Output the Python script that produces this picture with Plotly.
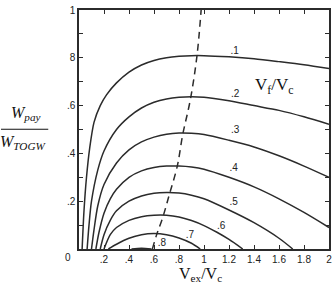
import plotly.graph_objects as go

# Vf/Vc curves: payload fraction vs Vex/Vc
x_r1 = [0.025, 0.04, 0.06, 0.085, 0.12, 0.17, 0.22, 0.3, 0.4, 0.5, 0.6, 0.7, 0.8, 0.9, 1.0, 1.2, 1.4, 1.6, 1.8, 2.0]
y_r1 = [0.0, 0.16, 0.30, 0.42, 0.53, 0.60, 0.645, 0.695, 0.74, 0.77, 0.789, 0.80, 0.806, 0.809, 0.809, 0.804, 0.796, 0.784, 0.771, 0.755]
x_r2 = [0.065, 0.08, 0.1, 0.15, 0.2, 0.3, 0.4, 0.5, 0.6, 0.7, 0.8, 0.9, 1.0, 1.2, 1.4, 1.6, 1.8, 2.0]
y_r2 = [0.0, 0.10, 0.20, 0.33, 0.41, 0.50, 0.553, 0.59, 0.614, 0.628, 0.635, 0.637, 0.635, 0.62, 0.60, 0.58, 0.553, 0.522]
x_r3 = [0.10, 0.12, 0.15, 0.2, 0.3, 0.4, 0.5, 0.6, 0.7, 0.8, 0.9, 1.0, 1.2, 1.4, 1.6, 1.8, 2.0]
y_r3 = [0.0, 0.08, 0.18, 0.27, 0.36, 0.415, 0.448, 0.468, 0.48, 0.485, 0.484, 0.479, 0.455, 0.427, 0.39, 0.347, 0.300]
x_r4 = [0.135, 0.16, 0.2, 0.25, 0.3, 0.4, 0.5, 0.6, 0.7, 0.8, 0.9, 1.0, 1.2, 1.4, 1.6, 1.8, 2.0]
y_r4 = [0.0, 0.07, 0.15, 0.21, 0.25, 0.30, 0.327, 0.341, 0.347, 0.347, 0.343, 0.334, 0.30, 0.26, 0.21, 0.153, 0.09]
x_r5 = [0.17, 0.2, 0.25, 0.3, 0.4, 0.5, 0.6, 0.7, 0.8, 0.9, 1.0, 1.2, 1.4, 1.6, 1.71]
y_r5 = [0.0, 0.06, 0.12, 0.16, 0.20, 0.222, 0.233, 0.236, 0.234, 0.225, 0.21, 0.163, 0.11, 0.045, 0.0]
x_r6 = [0.20, 0.25, 0.3, 0.4, 0.5, 0.6, 0.7, 0.8, 0.9, 1.0, 1.1, 1.2, 1.31]
y_r6 = [0.0, 0.06, 0.09, 0.12, 0.135, 0.141, 0.141, 0.134, 0.119, 0.098, 0.071, 0.040, 0.0]
x_r7 = [0.235, 0.3, 0.4, 0.5, 0.6, 0.7, 0.8, 0.9, 0.97]
y_r7 = [0.0, 0.02, 0.045, 0.06, 0.065, 0.06, 0.046, 0.024, 0.0]
x_r8 = [0.42, 0.5, 0.58]
y_r8 = [0.0, 0.003, 0.0]

curves_x = [x_r1, x_r2, x_r3, x_r4, x_r5, x_r6, x_r7, x_r8]
curves_y = [y_r1, y_r2, y_r3, y_r4, y_r5, y_r6, y_r7, y_r8]

# optimum (dashed) locus
x_opt = [0.587, 0.62, 0.67, 0.725, 0.786, 0.83, 0.89, 0.943, 0.977]
y_opt = [0.0, 0.058, 0.132, 0.232, 0.346, 0.479, 0.623, 0.805, 1.0]

# curve labels
lab_text = [".1", ".2", ".3", ".4", ".5", ".6", ".7", ".8"]
lab_x = [1.245, 1.25, 1.25, 1.237, 1.237, 1.137, 0.887, 0.663]
lab_y = [0.825, 0.645, 0.495, 0.338, 0.195, 0.095, 0.058, 0.022]

x_ticks = [0.2, 0.4, 0.6, 0.8, 1.0, 1.2, 1.4, 1.6, 1.8, 2.0]
x_ticktext = [".2", ".4", ".6", ".8", "1", "1.2", "1.4", "1.6", "1.8", "2"]
y_ticks = [0.1, 0.2, 0.3, 0.4, 0.5, 0.6, 0.7, 0.8, 0.9, 1.0]
y_ticktext = ["", ".2", "", ".4", "", ".6", "", "8", "", "1"]

LINE = "#2b2b2b"
SANS = "Arial, Liberation Sans, sans-serif"
SERIF = "Times New Roman, Liberation Serif, serif"

fig = go.Figure()
for cx, cy in zip(curves_x, curves_y):
    fig.add_trace(go.Scatter(x=cx, y=cy, mode="lines",
                             line=dict(color=LINE, width=1.5, shape="spline", smoothing=0.8),
                             hoverinfo="skip", showlegend=False))
fig.add_trace(go.Scatter(x=x_opt, y=y_opt, mode="lines",
                         line=dict(color=LINE, width=1.5, dash="7px,5px", shape="spline"),
                         hoverinfo="skip", showlegend=False))
fig.add_trace(go.Scatter(x=lab_x, y=lab_y, mode="text", text=lab_text,
                         textfont=dict(family=SANS, size=10, color="#222"),
                         textposition="middle center", hoverinfo="skip", showlegend=False))

axis_common = dict(showline=True, linecolor=LINE, linewidth=1.5, mirror="allticks",
                   ticks="inside", ticklen=4, tickwidth=1.2, tickcolor=LINE,
                   showgrid=False, zeroline=False,
                   tickfont=dict(family=SANS, size=10, color="#222"))
fig.update_xaxes(range=[0, 2], tickvals=x_ticks, ticktext=x_ticktext, **axis_common)
fig.update_yaxes(range=[0, 1], tickvals=y_ticks, ticktext=y_ticktext, **axis_common)

annotations = [
    dict(x=1.56, y=0.68, xref="x", yref="y", text="V<sub>f</sub>/V<sub>c</sub>",
         showarrow=False, xanchor="center", yanchor="middle",
         font=dict(family=SERIF, size=17, color="#111")),
    dict(x=0.5, y=-0.108, xref="paper", yref="paper", text="V<sub>ex</sub>/V<sub>c</sub>",
         showarrow=False, yanchor="middle", xanchor="center",
         xshift=-4, font=dict(family=SERIF, size=16, color="#111")),
    dict(x=-0.043, y=0.0, xref="paper", yref="paper", text="0", showarrow=False,
         xanchor="center", yanchor="middle",
         yshift=-8, font=dict(family=SANS, size=10, color="#222")),
    dict(x=-0.213, y=0.565, xref="paper", yref="paper", text="<i>W<sub>pay</sub></i>",
         showarrow=False, xanchor="center", yanchor="middle",
         font=dict(family=SERIF, size=16, color="#111")),
    dict(x=-0.222, y=0.444, xref="paper", yref="paper", text="<i>W<sub>TOGW</sub></i>",
         showarrow=False, xanchor="center", yanchor="middle",
         font=dict(family=SERIF, size=16, color="#111")),
]
fig.update_layout(
    width=336, height=288,
    margin=dict(l=79, r=4, t=6, b=39),
    paper_bgcolor="white", plot_bgcolor="white",
    annotations=annotations,
    shapes=[dict(type="line", xref="paper", yref="paper", x0=-0.312, x1=-0.123,
                 y0=0.501, y1=0.501, line=dict(color="#111", width=1.2))],
)
fig.write_html("out.html", config={"displayModeBar": False},
               post_script="document.body.style.margin='0';document.body.style.overflow='hidden';")
